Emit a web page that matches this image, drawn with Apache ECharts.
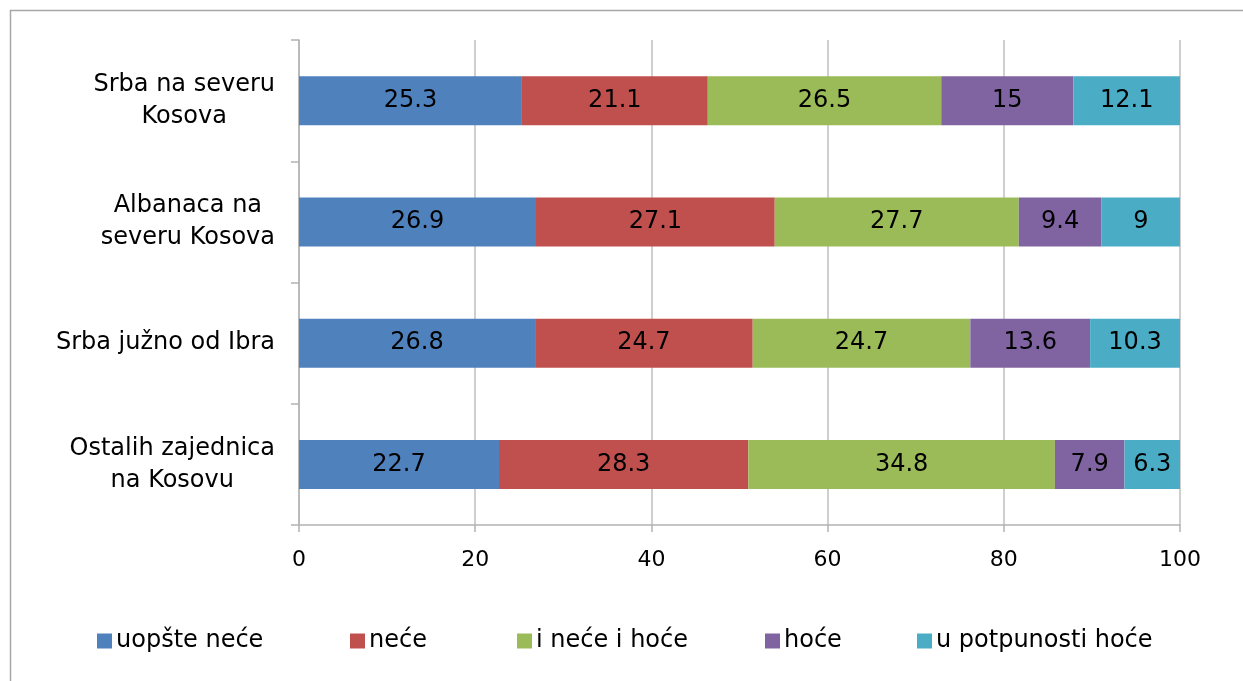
<!DOCTYPE html>
<html>
<head>
<meta charset="utf-8">
<script src="https://cdn.jsdelivr.net/npm/echarts@6/dist/echarts.min.js"></script>
<style>
html,body{margin:0;padding:0;background:#fff;}
#chart{width:1243px;height:681px;}
</style>
</head>
<body>
<div id="chart"></div>
<script>
var categories = ["Srba na severu\nKosova", "Albanaca na\nseveru Kosova", "Srba južno od Ibra", "Ostalih zajednica\nna Kosovu"];
var seriesNames = ["uopšte neće", "neće", "i neće i hoće", "hoće", "u potpunosti hoće"];
var uopsteNece = [25.3, 26.9, 26.8, 22.7];
var nece = [21.1, 27.1, 24.7, 28.3];
var neceIHoce = [26.5, 27.7, 24.7, 34.8];
var hoce = [15, 9.4, 13.6, 7.9];
var uPotpunostiHoce = [12.1, 9, 10.3, 6.3];
var xTicks = [0, 20, 40, 60, 80, 100];

var colors = ["#4F81BD", "#C0504D", "#9BBB59", "#8064A2", "#4BACC6"];
var dataSets = [uopsteNece, nece, neceIHoce, hoce, uPotpunostiHoce];
var legendLefts = [92, 345, 512, 760, 912];
var FONT = "DejaVu Sans";

var chart = echarts.init(document.getElementById('chart'));
var series = seriesNames.map(function (name, i) {
  return {
    name: name,
    type: 'bar',
    stack: 'total',
    barWidth: 49,
    data: dataSets[i],
    itemStyle: { color: colors[i] },
    label: {
      show: true,
      position: 'inside',
      color: '#000',
      fontFamily: FONT,
      fontSize: 24
    },
    emphasis: { disabled: true }
  };
});

var legends = seriesNames.map(function (name, i) {
  return {
    left: legendLefts[i],
    top: 624,
    itemWidth: 15,
    itemHeight: 15,
    itemGap: 0,
    icon: 'rect',
    selectedMode: false,
    textStyle: { fontFamily: FONT, fontSize: 24, color: '#000', padding: [0, 0, 0, -1] },
    data: [name]
  };
});

chart.setOption({
  animation: false,
  textStyle: { fontFamily: FONT },
  graphic: [{
    type: 'rect',
    shape: { x: 10.5, y: 10.5, width: 1260, height: 700 },
    style: { fill: 'none', stroke: '#a6a6a6', lineWidth: 1.5 },
    silent: true
  }],
  grid: { left: 299, right: 63, top: 40, bottom: 156, containLabel: false },
  legend: legends,
  xAxis: {
    type: 'value',
    min: 0,
    max: 100,
    interval: 20,
    axisLine: { show: true, lineStyle: { color: '#b3b3b3', width: 1.5 } },
    axisTick: { show: true, length: 7, lineStyle: { color: '#b3b3b3', width: 1.5 } },
    splitLine: { show: true, lineStyle: { color: '#bfbfbf', width: 1.5 } },
    axisLabel: {
      color: '#000', fontFamily: FONT, fontSize: 22, margin: 24,
      formatter: function (v) { return xTicks.indexOf(v) >= 0 ? String(v) : ''; }
    }
  },
  yAxis: {
    type: 'category',
    inverse: true,
    data: categories,
    axisLine: { show: true, lineStyle: { color: '#b3b3b3', width: 1.5 } },
    axisTick: { show: true, length: 8, lineStyle: { color: '#b3b3b3', width: 1.5 } },
    axisLabel: {
      color: '#000',
      fontFamily: FONT,
      fontSize: 24,
      margin: 24,
      lineHeight: 32,
      formatter: function (v) {
        return v.split('\n').map(function (s) { return '{a|' + s + '}'; }).join('\n');
      },
      rich: { a: { align: 'center', fontFamily: FONT, fontSize: 24, lineHeight: 32, color: '#000' } }
    }
  },
  series: series
});
</script>
</body>
</html>
